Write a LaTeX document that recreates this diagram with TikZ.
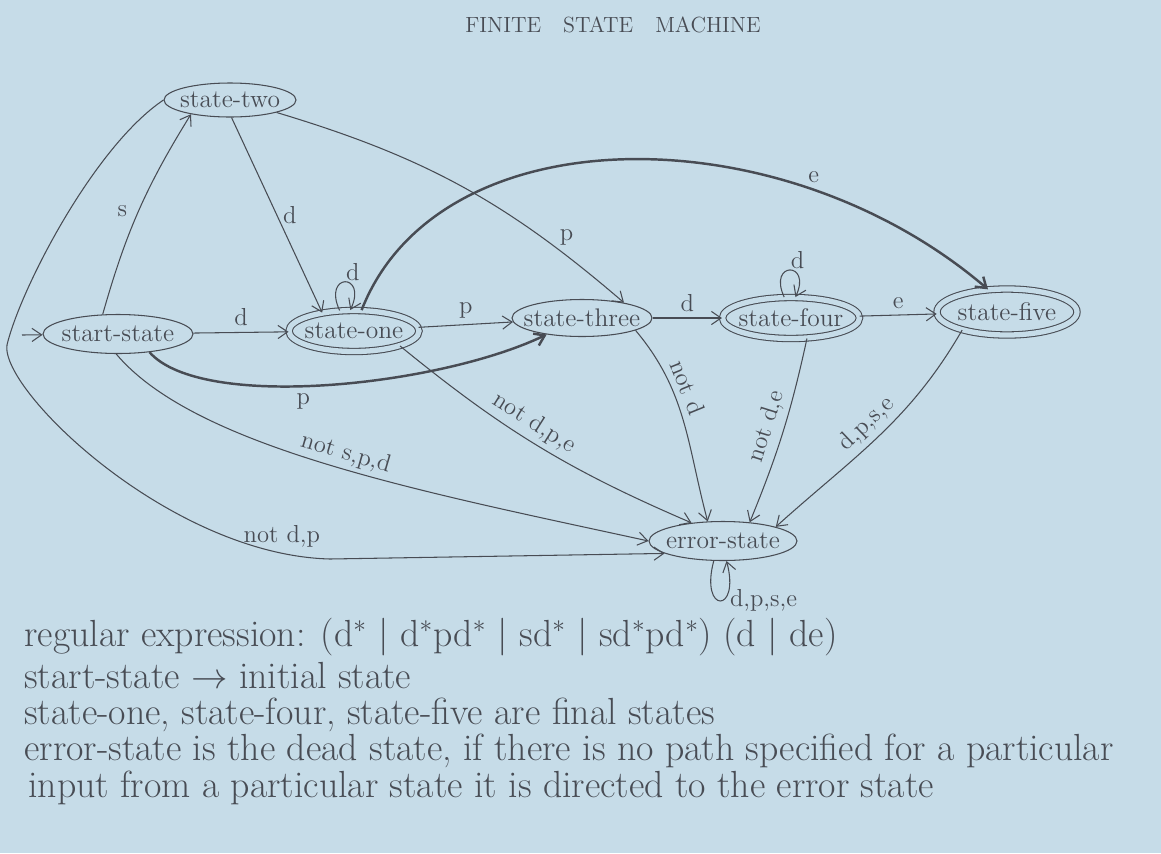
\documentclass[tikz,border=0pt]{standalone}
\usetikzlibrary{arrows.meta, shapes.geometric}

\definecolor{paper}{RGB}{198,220,232}
\definecolor{pencil}{RGB}{72,76,84}

\begin{document}
\begin{tikzpicture}[x = 0.02cm, y = -0.02cm, color = pencil, line width = 0.6pt,
	> = {Straight Barb[length=5.5pt, width=7.5pt]},
	state/.style = {ellipse, draw, inner xsep = -14pt, inner ysep = 0pt, font = \fontsize{14.5}{17}\selectfont},
	final/.style = {state, double = paper, double distance = 3pt},
	note/.style = {anchor = base west, font = \fontsize{21.5}{24}\selectfont}]
	
	% The paper
	
	\fill [paper] (0, 0) rectangle (1161, 853);
	\useasboundingbox (0, 0) rectangle (1161, 853);
	
	\node [font = \fontsize{12.5}{15}\selectfont] (title) at (613, 25) {FINITE\quad STATE\quad MACHINE};
	
	% States
	
	\node [state, minimum width = 3cm, minimum height = 0.78cm] (start) at (118, 334) {start-state};
	\node [state, minimum width = 2.64cm, minimum height = 0.68cm] (two) at (230, 100) {state-two};
	\node [final, minimum width = 2.6cm, minimum height = 0.82cm] (one) at (354, 331) {state-one};
	\node [state, minimum width = 2.8cm, minimum height = 0.74cm] (three) at (582, 318) {state-three};
	\node [final, minimum width = 2.74cm, minimum height = 0.82cm] (four) at (791, 318) {state-four};
	\node [final, minimum width = 2.8cm, minimum height = 0.92cm] (five) at (1007, 312) {state-five};
	\node [state, minimum width = 2.96cm, minimum height = 0.78cm] (error) at (723, 541) {error-state};
	
	\coordinate (entry) at (22, 335);
	\coordinate (lft) at (7, 345);
	\coordinate (low) at (330, 559);
	
	% Transitions
	
	\begin{scope}[->, font = \fontsize{14}{16}\selectfont]
	
		\draw (entry) -- (start);
		\draw (start.128) to [bend left = 8] node [left = 3pt] {s} (two.200);
		\draw (two.-85) -- node [right] {d} (one.150);
		\draw (start) -- node [above] {d} (one);
		\draw (one.125) to [out = 115, in = 65, looseness = 10] node [above right = -3pt] {d} (one.100);
		\draw (one) -- node [above] {p} (three);
		\draw (two.-15) to [bend left = 12] node [pos = 0.8, above right = -2pt] {p} (three.20);
		\draw (three) -- node [above] {d} (four);
		\draw (four.108) to [out = 115, in = 65, looseness = 9] node [above right = -3pt] {d} (four.78);
		\draw (four) -- node [above] {e} (five);
		
		\draw [line width = 1.4pt] (one.70) .. controls +(77, -197) and +(-207, -177) .. node [pos = 0.75, above] {e} (five.130);
		\draw [line width = 1.4pt] (start.-30) .. controls +(52, 59) and +(-109, 52) .. node [pos = 0.45, below] {p} (three.-155);
		
		% Into the error state
		
		\draw (three.-13) to [out = -50, in = 105] node [pos = 0.35, sloped, above] {not d} (error.128);
		\draw (four.-52) to [bend left = 5] node [sloped, above] {not d,e} (error.35);
		\draw (five.-158) to [out = -120, in = 42] node [sloped, above] {d,p,s,e} (error.15);
		\draw (one.-18) to [bend right = 8] node [pos = 0.45, sloped, above] {not d,p,e} (error.150);
		\draw (start.-95) .. controls +(80, 95) and +(-220, -48) .. node [pos = 0.52, sloped, above = -1pt] {not s,p,d} (error.west);
		\draw (two.west) .. controls +(-70, 47) and +(13, -55) .. (lft)
			.. controls +(-7, 45) and +(-160, -4) .. node [pos = 0.9, above] {not d,p} (low) -- (error.-168);
		\draw (error.-115) to [out = -105, in = -75, looseness = 11] node [right = 2pt] {d,p,s,e} (error.-80);
		
	\end{scope}
	
	% Notes below the machine
	
	\node [note] (regex) at (18, 646) {regular expression: (d$^*$ | d$^*$pd$^*$ | sd$^*$ | sd$^*$pd$^*$) (d | de)};
	\node [note] (initial) at (18, 688) {start-state $\rightarrow$ initial state};
	\node [note] (finals) at (18, 724) {state-one, state-four, state-five are final states};
	\node [note] (dead) at (18, 760) {error-state is the dead state, if there is no path specified for a particular};
	\node [note] (directed) at (22, 797) {input from a particular state it is directed to the error state};

\end{tikzpicture}
\end{document}
